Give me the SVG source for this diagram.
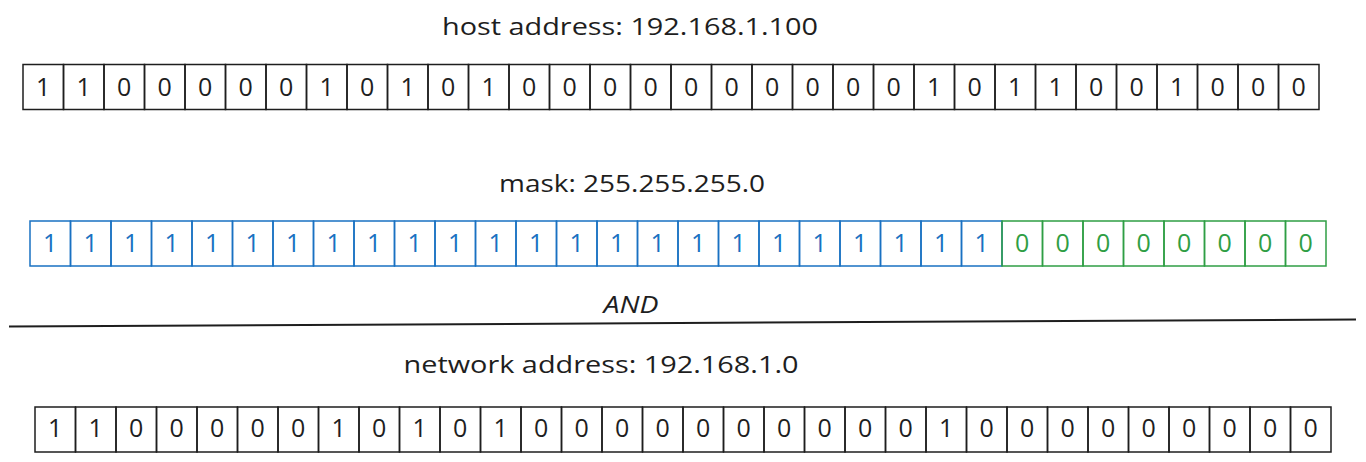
<svg xmlns="http://www.w3.org/2000/svg" width="1366" height="462" viewBox="0 0 1366 462">
<style>
.bg{fill:#ffffff}
.title{font-family:"Open Sans","Liberation Sans",sans-serif;font-size:24px;fill:#1e1e1e;text-anchor:middle}
.c rect{fill:none;stroke-width:1.5}
.c text{font-family:"Open Sans","Liberation Sans",sans-serif;font-size:25px;text-anchor:middle}
.k rect{stroke:#1e1e1e}.k text{fill:#1e1e1e}
.b rect{stroke:#1971c2}.b text{fill:#1971c2}
.g rect{stroke:#2f9e44}.g text{fill:#2f9e44}
.op{font-family:"Open Sans","Liberation Sans",sans-serif;font-size:24px;font-style:italic;fill:#1e1e1e;text-anchor:middle}
</style>
<rect class="bg" x="0" y="0" width="1366" height="462"/>
<text class="title" x="630" y="35" textLength="376" lengthAdjust="spacingAndGlyphs">host address: 192.168.1.100</text>
<text class="title" x="632" y="192" textLength="266" lengthAdjust="spacingAndGlyphs">mask: 255.255.255.0</text>
<text class="title" x="601" y="373" textLength="395" lengthAdjust="spacingAndGlyphs">network address: 192.168.1.0</text>
<text class="op" x="631" y="313" textLength="55" lengthAdjust="spacingAndGlyphs">AND</text>
<g id="connectors">
<line x1="9" y1="326.5" x2="1356" y2="319.5" stroke="#1e1e1e" stroke-width="2"/>
</g>
<g id="host" class="c k" transform="translate(23,64.5)">
<g id="h0"><rect x="0" y="0" width="40.5" height="45"/><text x="20.25" y="31">1</text></g>
<g id="h1"><rect x="40.5" y="0" width="40.5" height="45"/><text x="60.75" y="31">1</text></g>
<g id="h2"><rect x="81" y="0" width="40.5" height="45"/><text x="101.25" y="31">0</text></g>
<g id="h3"><rect x="121.5" y="0" width="40.5" height="45"/><text x="141.75" y="31">0</text></g>
<g id="h4"><rect x="162" y="0" width="40.5" height="45"/><text x="182.25" y="31">0</text></g>
<g id="h5"><rect x="202.5" y="0" width="40.5" height="45"/><text x="222.75" y="31">0</text></g>
<g id="h6"><rect x="243" y="0" width="40.5" height="45"/><text x="263.25" y="31">0</text></g>
<g id="h7"><rect x="283.5" y="0" width="40.5" height="45"/><text x="303.75" y="31">1</text></g>
<g id="h8"><rect x="324" y="0" width="40.5" height="45"/><text x="344.25" y="31">0</text></g>
<g id="h9"><rect x="364.5" y="0" width="40.5" height="45"/><text x="384.75" y="31">1</text></g>
<g id="h10"><rect x="405" y="0" width="40.5" height="45"/><text x="425.25" y="31">0</text></g>
<g id="h11"><rect x="445.5" y="0" width="40.5" height="45"/><text x="465.75" y="31">1</text></g>
<g id="h12"><rect x="486" y="0" width="40.5" height="45"/><text x="506.25" y="31">0</text></g>
<g id="h13"><rect x="526.5" y="0" width="40.5" height="45"/><text x="546.75" y="31">0</text></g>
<g id="h14"><rect x="567" y="0" width="40.5" height="45"/><text x="587.25" y="31">0</text></g>
<g id="h15"><rect x="607.5" y="0" width="40.5" height="45"/><text x="627.75" y="31">0</text></g>
<g id="h16"><rect x="648" y="0" width="40.5" height="45"/><text x="668.25" y="31">0</text></g>
<g id="h17"><rect x="688.5" y="0" width="40.5" height="45"/><text x="708.75" y="31">0</text></g>
<g id="h18"><rect x="729" y="0" width="40.5" height="45"/><text x="749.25" y="31">0</text></g>
<g id="h19"><rect x="769.5" y="0" width="40.5" height="45"/><text x="789.75" y="31">0</text></g>
<g id="h20"><rect x="810" y="0" width="40.5" height="45"/><text x="830.25" y="31">0</text></g>
<g id="h21"><rect x="850.5" y="0" width="40.5" height="45"/><text x="870.75" y="31">0</text></g>
<g id="h22"><rect x="891" y="0" width="40.5" height="45"/><text x="911.25" y="31">1</text></g>
<g id="h23"><rect x="931.5" y="0" width="40.5" height="45"/><text x="951.75" y="31">0</text></g>
<g id="h24"><rect x="972" y="0" width="40.5" height="45"/><text x="992.25" y="31">1</text></g>
<g id="h25"><rect x="1012.5" y="0" width="40.5" height="45"/><text x="1032.75" y="31">1</text></g>
<g id="h26"><rect x="1053" y="0" width="40.5" height="45"/><text x="1073.25" y="31">0</text></g>
<g id="h27"><rect x="1093.5" y="0" width="40.5" height="45"/><text x="1113.75" y="31">0</text></g>
<g id="h28"><rect x="1134" y="0" width="40.5" height="45"/><text x="1154.25" y="31">1</text></g>
<g id="h29"><rect x="1174.5" y="0" width="40.5" height="45"/><text x="1194.75" y="31">0</text></g>
<g id="h30"><rect x="1215" y="0" width="40.5" height="45"/><text x="1235.25" y="31">0</text></g>
<g id="h31"><rect x="1255.5" y="0" width="40.5" height="45"/><text x="1275.75" y="31">0</text></g>
</g>
<g id="mask" class="c" transform="translate(30,221)">
<g id="m0" class="b"><rect x="0" y="0" width="40.5" height="45"/><text x="20.25" y="31">1</text></g>
<g id="m1" class="b"><rect x="40.5" y="0" width="40.5" height="45"/><text x="60.75" y="31">1</text></g>
<g id="m2" class="b"><rect x="81" y="0" width="40.5" height="45"/><text x="101.25" y="31">1</text></g>
<g id="m3" class="b"><rect x="121.5" y="0" width="40.5" height="45"/><text x="141.75" y="31">1</text></g>
<g id="m4" class="b"><rect x="162" y="0" width="40.5" height="45"/><text x="182.25" y="31">1</text></g>
<g id="m5" class="b"><rect x="202.5" y="0" width="40.5" height="45"/><text x="222.75" y="31">1</text></g>
<g id="m6" class="b"><rect x="243" y="0" width="40.5" height="45"/><text x="263.25" y="31">1</text></g>
<g id="m7" class="b"><rect x="283.5" y="0" width="40.5" height="45"/><text x="303.75" y="31">1</text></g>
<g id="m8" class="b"><rect x="324" y="0" width="40.5" height="45"/><text x="344.25" y="31">1</text></g>
<g id="m9" class="b"><rect x="364.5" y="0" width="40.5" height="45"/><text x="384.75" y="31">1</text></g>
<g id="m10" class="b"><rect x="405" y="0" width="40.5" height="45"/><text x="425.25" y="31">1</text></g>
<g id="m11" class="b"><rect x="445.5" y="0" width="40.5" height="45"/><text x="465.75" y="31">1</text></g>
<g id="m12" class="b"><rect x="486" y="0" width="40.5" height="45"/><text x="506.25" y="31">1</text></g>
<g id="m13" class="b"><rect x="526.5" y="0" width="40.5" height="45"/><text x="546.75" y="31">1</text></g>
<g id="m14" class="b"><rect x="567" y="0" width="40.5" height="45"/><text x="587.25" y="31">1</text></g>
<g id="m15" class="b"><rect x="607.5" y="0" width="40.5" height="45"/><text x="627.75" y="31">1</text></g>
<g id="m16" class="b"><rect x="648" y="0" width="40.5" height="45"/><text x="668.25" y="31">1</text></g>
<g id="m17" class="b"><rect x="688.5" y="0" width="40.5" height="45"/><text x="708.75" y="31">1</text></g>
<g id="m18" class="b"><rect x="729" y="0" width="40.5" height="45"/><text x="749.25" y="31">1</text></g>
<g id="m19" class="b"><rect x="769.5" y="0" width="40.5" height="45"/><text x="789.75" y="31">1</text></g>
<g id="m20" class="b"><rect x="810" y="0" width="40.5" height="45"/><text x="830.25" y="31">1</text></g>
<g id="m21" class="b"><rect x="850.5" y="0" width="40.5" height="45"/><text x="870.75" y="31">1</text></g>
<g id="m22" class="b"><rect x="891" y="0" width="40.5" height="45"/><text x="911.25" y="31">1</text></g>
<g id="m23" class="b"><rect x="931.5" y="0" width="40.5" height="45"/><text x="951.75" y="31">1</text></g>
<g id="m24" class="g"><rect x="972" y="0" width="40.5" height="45"/><text x="992.25" y="31">0</text></g>
<g id="m25" class="g"><rect x="1012.5" y="0" width="40.5" height="45"/><text x="1032.75" y="31">0</text></g>
<g id="m26" class="g"><rect x="1053" y="0" width="40.5" height="45"/><text x="1073.25" y="31">0</text></g>
<g id="m27" class="g"><rect x="1093.5" y="0" width="40.5" height="45"/><text x="1113.75" y="31">0</text></g>
<g id="m28" class="g"><rect x="1134" y="0" width="40.5" height="45"/><text x="1154.25" y="31">0</text></g>
<g id="m29" class="g"><rect x="1174.5" y="0" width="40.5" height="45"/><text x="1194.75" y="31">0</text></g>
<g id="m30" class="g"><rect x="1215" y="0" width="40.5" height="45"/><text x="1235.25" y="31">0</text></g>
<g id="m31" class="g"><rect x="1255.5" y="0" width="40.5" height="45"/><text x="1275.75" y="31">0</text></g>
</g>
<g id="network" class="c k" transform="translate(35,407)">
<g id="n0"><rect x="0" y="0" width="40.5" height="45"/><text x="20.25" y="30">1</text></g>
<g id="n1"><rect x="40.5" y="0" width="40.5" height="45"/><text x="60.75" y="30">1</text></g>
<g id="n2"><rect x="81" y="0" width="40.5" height="45"/><text x="101.25" y="30">0</text></g>
<g id="n3"><rect x="121.5" y="0" width="40.5" height="45"/><text x="141.75" y="30">0</text></g>
<g id="n4"><rect x="162" y="0" width="40.5" height="45"/><text x="182.25" y="30">0</text></g>
<g id="n5"><rect x="202.5" y="0" width="40.5" height="45"/><text x="222.75" y="30">0</text></g>
<g id="n6"><rect x="243" y="0" width="40.5" height="45"/><text x="263.25" y="30">0</text></g>
<g id="n7"><rect x="283.5" y="0" width="40.5" height="45"/><text x="303.75" y="30">1</text></g>
<g id="n8"><rect x="324" y="0" width="40.5" height="45"/><text x="344.25" y="30">0</text></g>
<g id="n9"><rect x="364.5" y="0" width="40.5" height="45"/><text x="384.75" y="30">1</text></g>
<g id="n10"><rect x="405" y="0" width="40.5" height="45"/><text x="425.25" y="30">0</text></g>
<g id="n11"><rect x="445.5" y="0" width="40.5" height="45"/><text x="465.75" y="30">1</text></g>
<g id="n12"><rect x="486" y="0" width="40.5" height="45"/><text x="506.25" y="30">0</text></g>
<g id="n13"><rect x="526.5" y="0" width="40.5" height="45"/><text x="546.75" y="30">0</text></g>
<g id="n14"><rect x="567" y="0" width="40.5" height="45"/><text x="587.25" y="30">0</text></g>
<g id="n15"><rect x="607.5" y="0" width="40.5" height="45"/><text x="627.75" y="30">0</text></g>
<g id="n16"><rect x="648" y="0" width="40.5" height="45"/><text x="668.25" y="30">0</text></g>
<g id="n17"><rect x="688.5" y="0" width="40.5" height="45"/><text x="708.75" y="30">0</text></g>
<g id="n18"><rect x="729" y="0" width="40.5" height="45"/><text x="749.25" y="30">0</text></g>
<g id="n19"><rect x="769.5" y="0" width="40.5" height="45"/><text x="789.75" y="30">0</text></g>
<g id="n20"><rect x="810" y="0" width="40.5" height="45"/><text x="830.25" y="30">0</text></g>
<g id="n21"><rect x="850.5" y="0" width="40.5" height="45"/><text x="870.75" y="30">0</text></g>
<g id="n22"><rect x="891" y="0" width="40.5" height="45"/><text x="911.25" y="30">1</text></g>
<g id="n23"><rect x="931.5" y="0" width="40.5" height="45"/><text x="951.75" y="30">0</text></g>
<g id="n24"><rect x="972" y="0" width="40.5" height="45"/><text x="992.25" y="30">0</text></g>
<g id="n25"><rect x="1012.5" y="0" width="40.5" height="45"/><text x="1032.75" y="30">0</text></g>
<g id="n26"><rect x="1053" y="0" width="40.5" height="45"/><text x="1073.25" y="30">0</text></g>
<g id="n27"><rect x="1093.5" y="0" width="40.5" height="45"/><text x="1113.75" y="30">0</text></g>
<g id="n28"><rect x="1134" y="0" width="40.5" height="45"/><text x="1154.25" y="30">0</text></g>
<g id="n29"><rect x="1174.5" y="0" width="40.5" height="45"/><text x="1194.75" y="30">0</text></g>
<g id="n30"><rect x="1215" y="0" width="40.5" height="45"/><text x="1235.25" y="30">0</text></g>
<g id="n31"><rect x="1255.5" y="0" width="40.5" height="45"/><text x="1275.75" y="30">0</text></g>
</g>
</svg>
